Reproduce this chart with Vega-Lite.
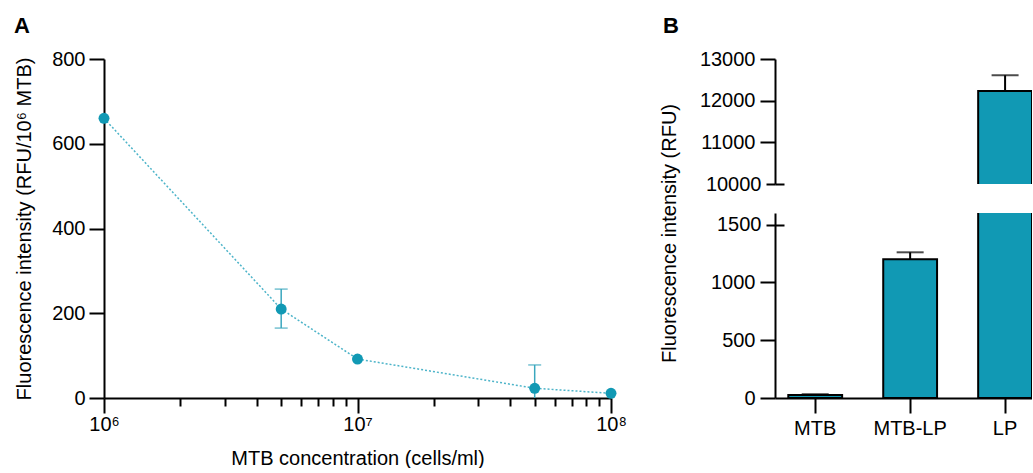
{
  "$schema": "https://vega.github.io/schema/vega-lite/v6.json",
  "padding": {"left": 14, "top": 15, "right": 0, "bottom": 0},
  "bounds": "flush",
  "spacing": 164,
  "config": {
    "font": "Liberation Sans",
    "view": {"stroke": null},
    "axis": {
      "domainColor": "#000", "domainWidth": 2, "tickColor": "#000", "tickWidth": 2,
      "labelColor": "#000", "titleColor": "#000", "labelFont": "Liberation Sans", "titleFont": "Liberation Sans",
      "labelFontSize": 20, "titleFontSize": 20, "titleFontWeight": "normal", "grid": false, "tickSize": 15
    },
    "title": {"fontSize": 22, "fontWeight": "bold", "anchor": "start", "frame": "group", "color": "#000", "font": "Liberation Sans", "baseline": "alphabetic"}
  },
  "datasets": {
    "curve": [
      {"conc": 1000000, "rfu": 660},
      {"conc": 5000000, "rfu": 210},
      {"conc": 10000000, "rfu": 92},
      {"conc": 50000000, "rfu": 23},
      {"conc": 100000000, "rfu": 11}
    ],
    "curveErr": [
      {"conc": 5000000, "lo": 165, "hi": 257},
      {"conc": 50000000, "lo": -32, "hi": 78}
    ],
    "bars": [
      {"group": "MTB", "rfu": 25, "hi": 33},
      {"group": "MTB-LP", "rfu": 1200, "hi": 1260},
      {"group": "LP", "rfu": 12230, "hi": 12610}
    ]
  },
  "hconcat": [
    {
      "title": {"text": "A", "dx": -90, "offset": 11},
      "width": 507,
      "height": 339,
      "layer": [
        {
          "data": {"name": "curve"},
          "mark": {"type": "line", "color": "#4db4c9", "strokeDash": [2, 2], "strokeWidth": 1.5},
          "encoding": {
            "x": {"field": "conc", "type": "quantitative",
              "scale": {"type": "log", "domain": [1000000, 100000000], "padding": 0},
              "axis": {"values": [1000000, 10000000, 100000000], "orient": "bottom",
                "labelExpr": "datum.value == 1000000 ? '10⁶' : datum.value == 10000000 ? '10⁷' : '10⁸'",
                "labelFlush": false, "labelOverlap": false, "labelPadding": 1,
                "title": "MTB concentration (cells/ml)", "titlePadding": 14}},
            "y": {"field": "rfu", "type": "quantitative", "scale": {"domain": [0, 800], "padding": 0},
              "axis": {"values": [0, 200, 400, 600, 800], "labelPadding": 4,
                "title": "Fluorescence intensity (RFU/10⁶ MTB)", "titlePadding": 17}}
          }
        },
        {
          "data": {"name": "curveErr"},
          "mark": {"type": "rule", "color": "#3aa7be", "strokeWidth": 1.5, "clip": true},
          "encoding": {
            "x": {"field": "conc", "type": "quantitative",
              "axis": {"values": [2000000, 3000000, 4000000, 5000000, 6000000, 7000000, 8000000, 9000000, 20000000, 30000000, 40000000, 50000000, 60000000, 70000000, 80000000, 90000000],
                "orient": "bottom", "tickSize": 8, "labels": false, "domain": false, "title": null}},
            "y": {"field": "lo", "type": "quantitative"},
            "y2": {"field": "hi"}
          }
        },
        {
          "data": {"name": "curveErr"},
          "mark": {"type": "tick", "orient": "horizontal", "color": "#3aa7be", "size": 13, "thickness": 1.5, "clip": true},
          "encoding": {
            "x": {"field": "conc", "type": "quantitative", "axis": null},
            "y": {"field": "hi", "type": "quantitative"}
          }
        },
        {
          "data": {"name": "curveErr"},
          "mark": {"type": "tick", "orient": "horizontal", "color": "#3aa7be", "size": 13, "thickness": 1.5, "clip": true},
          "encoding": {
            "x": {"field": "conc", "type": "quantitative", "axis": null},
            "y": {"field": "lo", "type": "quantitative"}
          }
        },
        {
          "data": {"name": "curve"},
          "mark": {"type": "circle", "color": "#1199b4", "size": 120, "opacity": 1},
          "encoding": {
            "x": {"field": "conc", "type": "quantitative", "axis": null},
            "y": {"field": "rfu", "type": "quantitative"}
          }
        }
      ],
      "resolve": {"axis": {"x": "independent"}}
    },
    {
      "bounds": "flush",
      "spacing": 29,
      "vconcat": [
        {
          "title": {"text": "B", "dx": -112, "offset": 11},
          "width": 257,
          "height": 125,
          "data": {"name": "bars"},
          "layer": [
            {
              "mark": {"type": "bar", "fill": "#1199b4", "stroke": "#000", "strokeWidth": 2, "clip": true},
              "encoding": {
                "x": {"field": "group", "type": "nominal", "sort": ["MTB", "MTB-LP", "LP"],
                  "scale": {"paddingInner": 0.433, "paddingOuter": 0.07, "align": 1}, "axis": null},
                "y": {"field": "rfu", "type": "quantitative", "scale": {"domain": [10000, 13000], "padding": 0},
                  "axis": {"values": [10000, 11000, 12000, 13000], "format": "d", "title": null, "labelPadding": 5,
                    "tickSize": {"condition": {"test": "datum.value == 10000", "value": 9}, "value": 15}}}
              }
            },
            {
              "mark": {"type": "rule", "color": "#000", "strokeWidth": 2, "clip": true},
              "encoding": {
                "x": {"field": "group", "type": "nominal", "sort": ["MTB", "MTB-LP", "LP"]},
                "y": {"field": "rfu", "type": "quantitative",
                  "axis": {"orient": "right", "offset": -257, "values": [10000], "labels": false, "domain": false, "title": null, "tickSize": 9}},
                "y2": {"field": "hi"}
              }
            },
            {
              "mark": {"type": "tick", "color": "#000", "size": 27, "thickness": 2, "clip": true},
              "encoding": {
                "x": {"field": "group", "type": "nominal", "sort": ["MTB", "MTB-LP", "LP"]},
                "y": {"field": "hi", "type": "quantitative", "axis": null}
              }
            }
          ],
          "resolve": {"axis": {"y": "independent"}}
        },
        {
          "width": 257,
          "height": 185,
          "data": {"name": "bars"},
          "layer": [
            {
              "mark": {"type": "bar", "fill": "#1199b4", "stroke": "#000", "strokeWidth": 2, "clip": true},
              "encoding": {
                "x": {"field": "group", "type": "nominal", "sort": ["MTB", "MTB-LP", "LP"],
                  "scale": {"paddingInner": 0.433, "paddingOuter": 0.07, "align": 1},
                  "axis": {"title": null, "labelAngle": 0, "labelPadding": 5, "tickSize": 15}},
                "y": {"field": "rfu", "type": "quantitative", "scale": {"domain": [0, 1500], "padding": 0},
                  "axis": {"values": [0, 500, 1000, 1500], "format": "d", "labelPadding": 5,
                    "title": "Fluorescence intensity (RFU)", "titlePadding": 31, "titleY": 20,
                    "tickSize": {"condition": {"test": "datum.value == 1500", "value": 9}, "value": 15}}}
              }
            },
            {
              "mark": {"type": "rule", "color": "#000", "strokeWidth": 2, "clip": true},
              "encoding": {
                "x": {"field": "group", "type": "nominal", "sort": ["MTB", "MTB-LP", "LP"]},
                "y": {"field": "rfu", "type": "quantitative",
                  "axis": {"orient": "right", "offset": -257, "values": [1500], "labels": false, "domain": false, "title": null, "tickSize": 9}},
                "y2": {"field": "hi"}
              }
            },
            {
              "mark": {"type": "tick", "color": "#000", "size": 27, "thickness": 2, "clip": true},
              "encoding": {
                "x": {"field": "group", "type": "nominal", "sort": ["MTB", "MTB-LP", "LP"]},
                "y": {"field": "hi", "type": "quantitative", "axis": null}
              }
            }
          ],
          "resolve": {"axis": {"y": "independent"}}
        }
      ]
    }
  ]
}
